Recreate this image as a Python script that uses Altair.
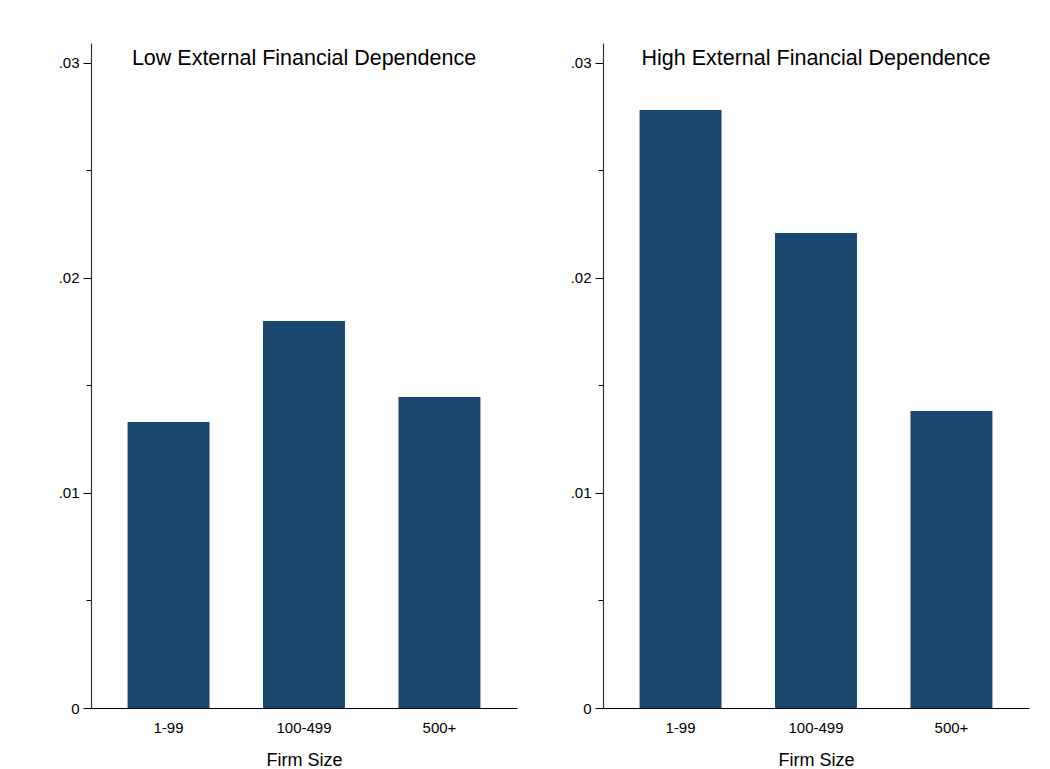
import altair as alt
import pandas as pd

panel_titles = ["Low External Financial Dependence", "High External Financial Dependence"]
categories = ["1-99", "100-499", "500+"]
low_values = [0.0133, 0.0180, 0.01447]
high_values = [0.02781, 0.02209, 0.01381]
y_ticks = [0, 0.005, 0.01, 0.015, 0.02, 0.025, 0.03]
x_title = "Firm Size"

BAR = "#1a476f"
FONT = "Liberation Sans"
W, H = 426, 665

major = "abs(datum.value*100 - round(datum.value*100)) < 0.001"


def panel(title, values):
    df = pd.DataFrame({"size": categories, "value": values})
    bars = alt.Chart(df).mark_bar(color=BAR).encode(
        x=alt.X("size:N", sort=categories, title=x_title,
                scale=alt.Scale(paddingInner=0.395, paddingOuter=0.27),
                axis=alt.Axis(labelAngle=0, ticks=False, labelPadding=12,
                              labelFontSize=15, titleFontSize=18,
                              titleFontWeight="normal", titlePadding=16,
                              domainColor="#000000", domainWidth=1,
                              labelColor="#000000", titleColor="#000000",
                              labelFont=FONT, titleFont=FONT)),
        y=alt.Y("value:Q", title=None,
                scale=alt.Scale(domain=[0, 0.03093], nice=False, zero=True),
                axis=alt.Axis(values=y_ticks, grid=False,
                              tickSize={"condition": {"test": major, "value": 8}, "value": 5},
                              tickColor="#000000", domainColor="#333333",
                              domainWidth=1.2, labelPadding=4,
                              labelFontSize=15, labelColor="#000000",
                              labelFont=FONT,
                              labelExpr=major + " ? (datum.value == 0 ? '0' : '.0' + round(datum.value*100)) : ''")),
    )
    tdf = pd.DataFrame({"t": [title]})
    txt = alt.Chart(tdf).mark_text(fontSize=21.5, font=FONT, color="#000000",
                                   baseline="middle", align="center").encode(
        text="t:N", x=alt.value(W / 2), y=alt.value(16))
    return alt.layer(bars, txt).properties(width=W, height=H)


chart = alt.hconcat(
    panel(panel_titles[0], low_values),
    panel(panel_titles[1], high_values),
    spacing=53,
).properties(
    padding={"left": 50, "top": 35, "right": 5, "bottom": 5}
).configure(background="white").configure_view(stroke=None)

chart.save("out.html", embed_options={"renderer": "svg", "actions": False})
